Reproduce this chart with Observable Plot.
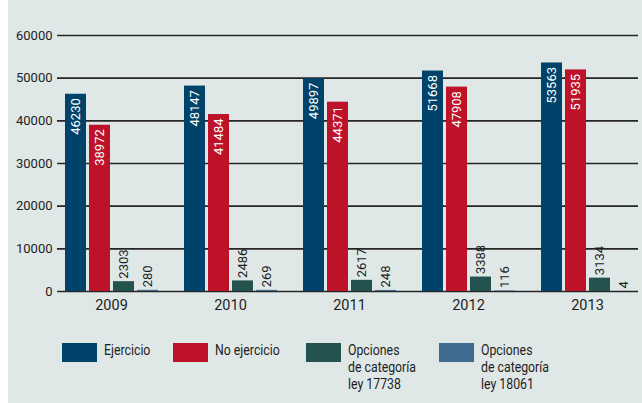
<!DOCTYPE html>
<html><head><meta charset="utf-8">
<script src="https://cdn.jsdelivr.net/npm/d3@7"></script>
<script src="https://cdn.jsdelivr.net/npm/@observablehq/plot@0.6"></script>
<style>
html,body{margin:0;padding:0;background:#fff;}
#wrap{position:relative;margin-left:8px;width:634px;height:403px;background:#e0e8e7;overflow:hidden;}
#grid,#chart{position:absolute;left:0;top:0;}
#grid svg,#chart svg{display:block;}
#legend{position:absolute;left:0;top:0;width:634px;height:403px;}
.item{position:absolute;top:342px;display:flex;align-items:flex-start;}
.sw{width:35px;height:19px;margin-top:1px;margin-right:7px;flex:none;}
.lab{font-family:Roboto,sans-serif;font-size:15px;line-height:17px;color:#1d1d1d;transform:scaleX(0.82);transform-origin:left top;white-space:nowrap;}
[aria-label^="fx-axis"] text{font-size:14.5px;}
[aria-label^="y-axis"] text{font-size:13px;}
</style></head>
<body><div id="wrap"><div id="grid"></div><div id="chart"></div><div id="legend"></div></div>
<script>
const years = ["2009", "2010", "2011", "2012", "2013"];
const seriesNames = ["Ejercicio", "No ejercicio", "Opciones de categoría ley 17738", "Opciones de categoría ley 18061"];
const legendLines = [["Ejercicio"], ["No ejercicio"], ["Opciones", "de categoría", "ley 17738"], ["Opciones", "de categoría", "ley 18061"]];
const colors = ["#00436a", "#be1229", "#24524f", "#3e6b8f"];
const ejercicio = [46230, 48147, 49897, 51668, 53563];
const noEjercicio = [38972, 41484, 44371, 47908, 51935];
const opciones17738 = [2303, 2486, 2617, 3388, 3134];
const opciones18061 = [280, 269, 248, 116, 4];
const yTicks = [0, 10000, 20000, 30000, 40000, 50000, 60000];
const legendLeft = [54, 165, 298, 431];

const seriesValues = [ejercicio, noEjercicio, opciones17738, opciones18061];
const data = years.flatMap((yr, i) => seriesNames.map((s, j) => ({year: yr, series: s, value: seriesValues[j][i]})));

const common = {
  width: 634, height: 320,
  marginLeft: 49, marginRight: 4, marginTop: 35, marginBottom: 29,
  style: {background: "transparent", fontFamily: "Roboto, sans-serif", color: "#1d1d1d", overflow: "visible"}
};

const grid = Plot.plot({
  ...common,
  x: {axis: null},
  y: {domain: [0, 60000], ticks: yTicks, tickSize: 0, tickPadding: 5, label: null, tickFormat: d3.format("d")},
  marks: [Plot.ruleY(yTicks, {stroke: "#262626", strokeWidth: 1.6})]
});
document.getElementById("grid").appendChild(grid);

const chart = Plot.plot({
  ...common,
  fx: {domain: years, paddingInner: 0.2075, paddingOuter: 0.042, align: 0.7, label: null, axis: "bottom", tickSize: 0, tickPadding: 8},
  x: {domain: seriesNames, paddingInner: 0.14, paddingOuter: 0, axis: null},
  y: {domain: [0, 60000], axis: null},
  color: {domain: seriesNames, range: colors},
  marks: [
    Plot.barY(data, {fx: "year", x: "series", y: "value", fill: "series"}),
    Plot.text(data.filter(d => d.value >= 10000), {fx: "year", x: "series", y: "value", text: d => String(d.value), rotate: -90, textAnchor: "end", lineAnchor: "middle", dy: 4, fill: "white", fontSize: 13}),
    Plot.text(data.filter(d => d.value < 10000), {fx: "year", x: "series", y: "value", text: d => String(d.value), rotate: -90, textAnchor: "start", lineAnchor: "middle", dy: -3, fill: "#1d1d1d", fontSize: 13})
  ]
});
document.getElementById("chart").appendChild(chart);

const legend = document.getElementById("legend");
seriesNames.forEach((s, i) => {
  const item = document.createElement("div");
  item.className = "item";
  item.style.left = legendLeft[i] + "px";
  const sw = document.createElement("div");
  sw.className = "sw";
  sw.style.background = colors[i];
  const lab = document.createElement("div");
  lab.className = "lab";
  lab.innerHTML = legendLines[i].join("<br>");
  item.appendChild(sw);
  item.appendChild(lab);
  legend.appendChild(item);
});
</script>
</body></html>
